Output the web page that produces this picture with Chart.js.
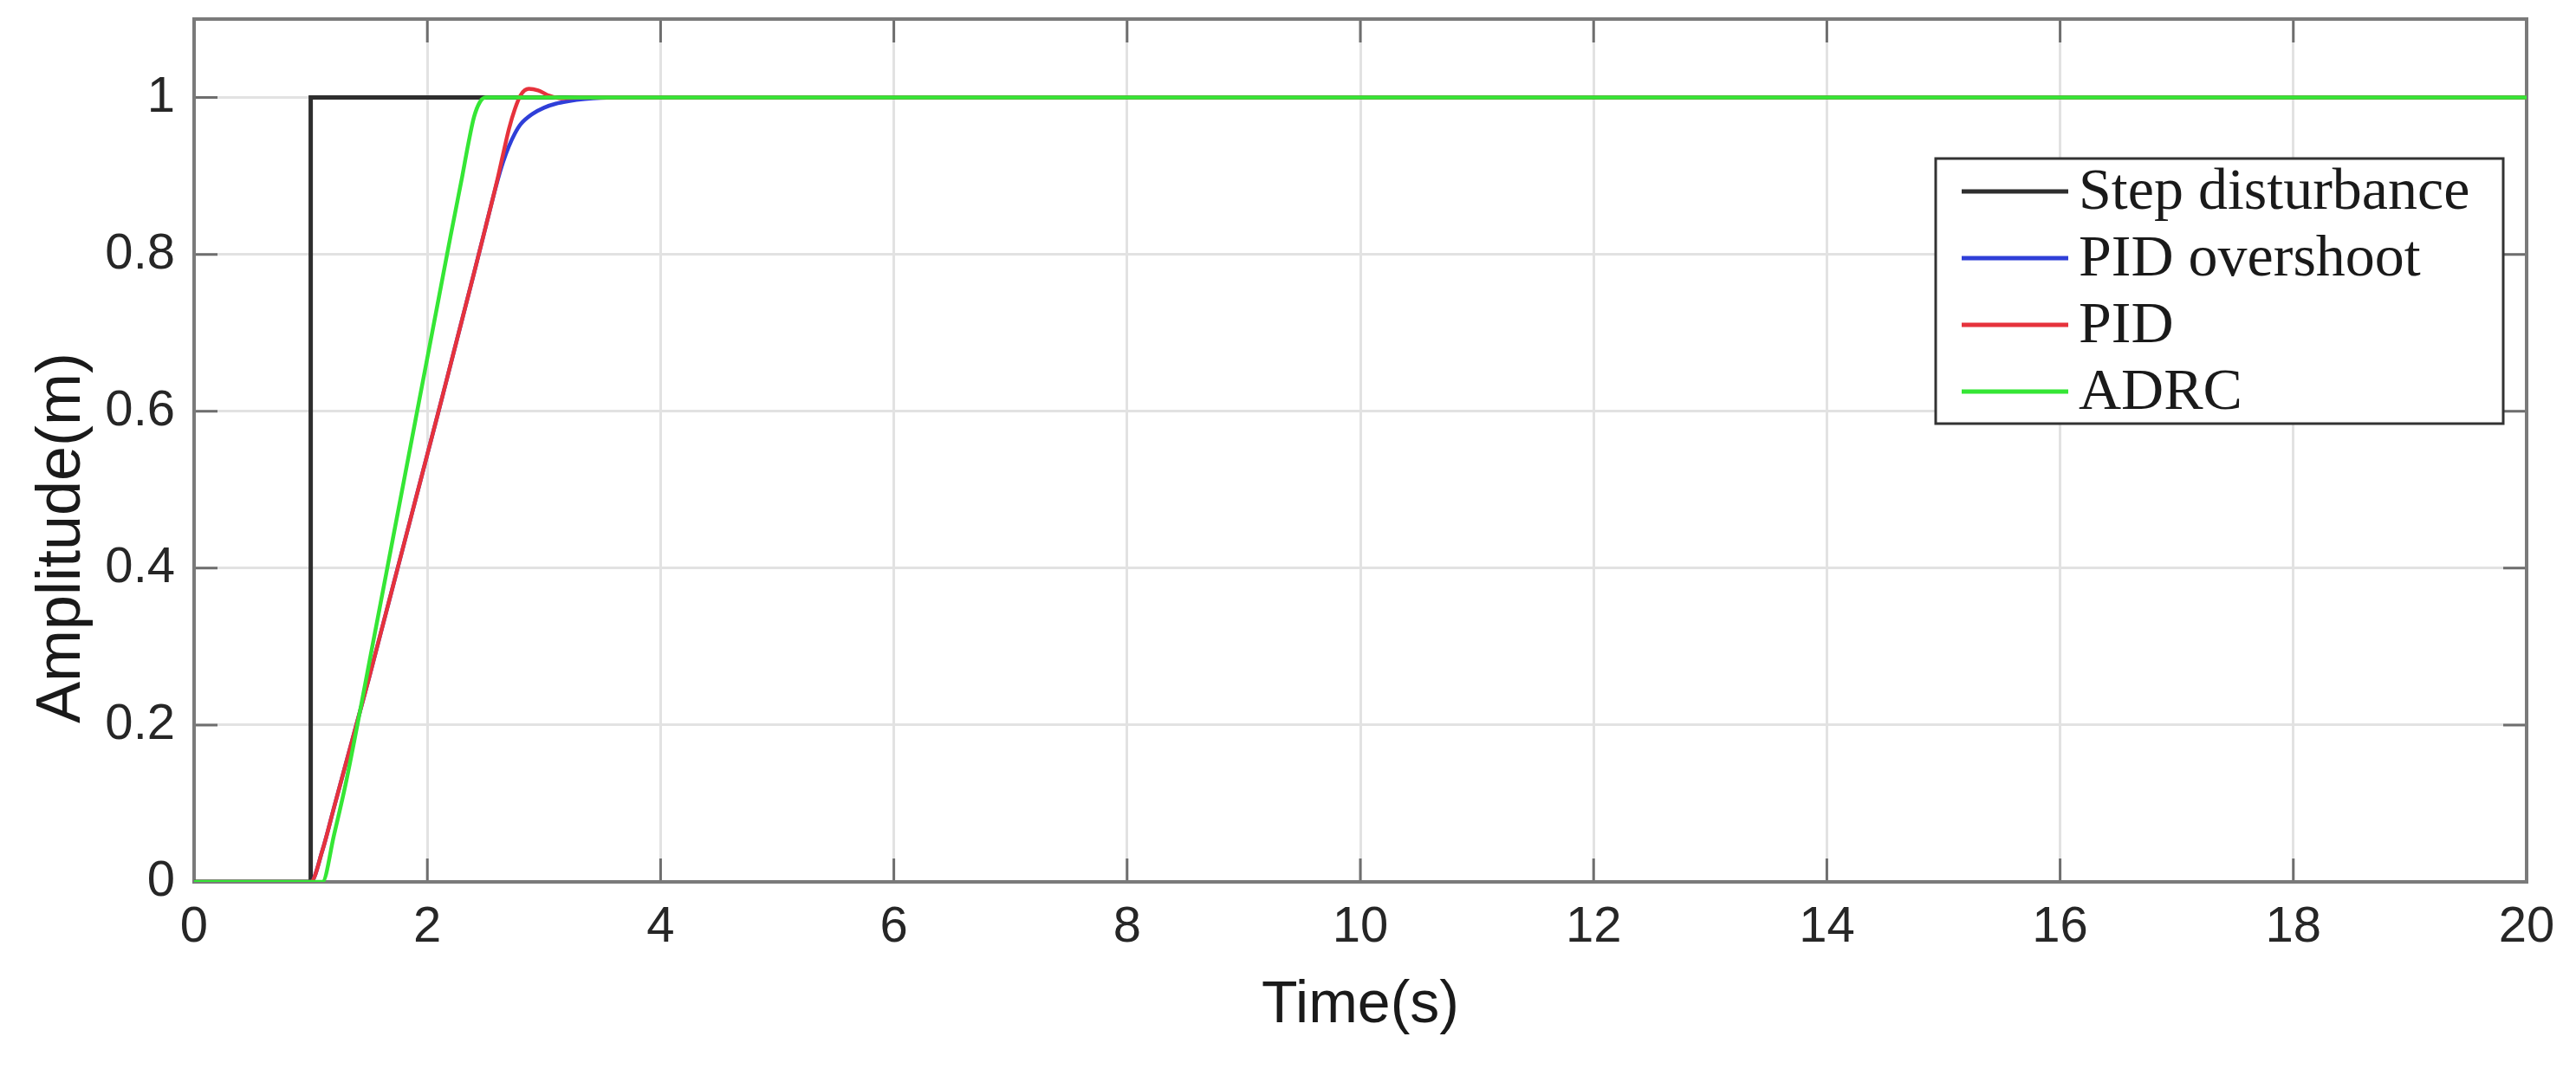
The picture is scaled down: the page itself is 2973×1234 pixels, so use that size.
<!DOCTYPE html>
<html>
<head>
<meta charset="utf-8">
<script src="https://cdn.jsdelivr.net/npm/chart.js@4.4.0/dist/chart.umd.min.js"></script>
<style>
  html, body { margin: 0; padding: 0; background: #fff; }
  #wrap { width: 2973px; height: 1234px; position: relative; }
</style>
</head>
<body>
<div id="wrap"><canvas id="chart"></canvas></div>
<script>
// axis ticks
const xTicks = [0, 2, 4, 6, 8, 10, 12, 14, 16, 18, 20];
const xTickLabels = ['0', '2', '4', '6', '8', '10', '12', '14', '16', '18', '20'];
const yTicks = [0, 0.2, 0.4, 0.6, 0.8, 1];
const yTickLabels = ['0', '0.2', '0.4', '0.6', '0.8', '1'];
const xTitle = 'Time(s)';
const yTitle = 'Amplitude(m)';

// series (time in s, amplitude in m)
const seriesNames = ['Step disturbance', 'PID overshoot', 'PID', 'ADRC'];
const seriesColors = ['#2e2e2e', '#2f3fd8', '#e6323c', '#35e635'];

const stepT = [0, 1, 1, 20];
const stepY = [0, 0, 1, 1];

const overT = [0, 1.0, 1.1, 1.2, 1.3, 1.4, 1.5, 1.6, 1.7, 1.8, 1.9, 2.0, 2.1, 2.2, 2.3, 2.4, 2.5, 2.6, 2.65, 2.7, 2.75, 2.8, 2.9, 3.0, 3.1, 3.2, 3.35, 3.6, 20];
const overY = [0, 0, 0.04, 0.095, 0.15, 0.205, 0.26, 0.317, 0.374, 0.431, 0.488, 0.545, 0.602, 0.66, 0.718, 0.776, 0.835, 0.893, 0.918, 0.938, 0.954, 0.966, 0.979, 0.987, 0.992, 0.995, 0.998, 1.0, 1.0];

const pidT = [0, 1.0, 1.1, 1.2, 1.3, 1.4, 1.5, 1.6, 1.7, 1.8, 1.9, 2.0, 2.1, 2.2, 2.3, 2.4, 2.5, 2.6, 2.65, 2.7, 2.75, 2.8, 2.87, 2.95, 3.05, 3.15, 3.3, 20];
const pidY = [0, 0, 0.04, 0.095, 0.15, 0.205, 0.26, 0.317, 0.374, 0.431, 0.488, 0.545, 0.602, 0.66, 0.718, 0.776, 0.835, 0.895, 0.928, 0.96, 0.985, 1.003, 1.011, 1.009, 1.002, 0.999, 1.0, 1.0];

const adrcT = [0, 1.1, 1.2, 1.3, 1.4, 1.5, 1.6, 1.7, 1.8, 1.9, 2.0, 2.1, 2.2, 2.3, 2.35, 2.4, 2.45, 2.5, 20];
const adrcY = [0, 0, 0.06, 0.125, 0.2, 0.278, 0.356, 0.434, 0.512, 0.59, 0.668, 0.746, 0.824, 0.9, 0.94, 0.975, 0.994, 1.0, 1.0];

function pts(t, y) {
    return t.map(function(v, i) { return { x: v, y: y[i] }; });
}

// MATLAB style box with inward ticks on all four sides
const frameTicks = {
    id: 'frameTicks',
    beforeDatasetsDraw(chart) {
        const ctx = chart.ctx;
        const a = chart.chartArea;
        const xs = chart.scales.x, ys = chart.scales.y;
        const len = 27;
        ctx.save();
        ctx.strokeStyle = '#6e6e6e';
        ctx.lineWidth = 3;
        ctx.beginPath();
        xTicks.forEach(function(v) {
            const px = xs.getPixelForValue(v);
            ctx.moveTo(px, a.bottom); ctx.lineTo(px, a.bottom - len);
            ctx.moveTo(px, a.top); ctx.lineTo(px, a.top + len);
        });
        yTicks.forEach(function(v) {
            const py = ys.getPixelForValue(v);
            ctx.moveTo(a.left, py); ctx.lineTo(a.left + len, py);
            ctx.moveTo(a.right, py); ctx.lineTo(a.right - len, py);
        });
        ctx.stroke();
        ctx.lineWidth = 4;
        ctx.strokeStyle = '#7a7a7a';
        ctx.strokeRect(a.left, a.top, a.right - a.left, a.bottom - a.top);
        ctx.restore();
    }
};

// y label sits a bit below the axis centre in the original
const yLabel = {
    id: 'yLabel',
    afterDraw(chart) {
        const ctx = chart.ctx;
        ctx.save();
        ctx.translate(72, 621);
        ctx.rotate(-Math.PI / 2);
        ctx.font = '72px "Liberation Sans"';
        ctx.fillStyle = '#1a1a1a';
        ctx.textAlign = 'center';
        ctx.textBaseline = 'middle';
        ctx.fillText(yTitle, 0, 0);
        ctx.restore();
    }
};

// boxed legend inside the plot, upper right
const boxLegend = {
    id: 'boxLegend',
    afterDraw(chart) {
        const ctx = chart.ctx;
        const bx = 2234, by = 183, bw = 655, bh = 306;
        ctx.save();
        ctx.fillStyle = '#ffffff';
        ctx.fillRect(bx, by, bw, bh);
        ctx.strokeStyle = '#333333';
        ctx.lineWidth = 3;
        ctx.strokeRect(bx, by, bw, bh);
        ctx.font = '68px "Liberation Serif"';
        ctx.textBaseline = 'middle';
        chart.data.datasets.forEach(function(ds, i) {
            const cy = by + 38 + i * 77;
            ctx.strokeStyle = ds.borderColor;
            ctx.lineWidth = 5;
            ctx.beginPath();
            ctx.moveTo(bx + 30, cy);
            ctx.lineTo(bx + 153, cy);
            ctx.stroke();
            ctx.fillStyle = '#1a1a1a';
            ctx.fillText(ds.label, bx + 165, cy + 2);
        });
        ctx.restore();
    }
};

const ctx = document.getElementById('chart').getContext('2d');
const chart = new Chart(ctx, {
    type: 'line',
    data: {
        datasets: [
            { label: seriesNames[0], data: pts(stepT, stepY), borderColor: seriesColors[0], borderWidth: 5, order: 4, tension: 0 },
            { label: seriesNames[1], data: pts(overT, overY), borderColor: seriesColors[1], borderWidth: 4.5, order: 3, cubicInterpolationMode: 'monotone' },
            { label: seriesNames[2], data: pts(pidT, pidY), borderColor: seriesColors[2], borderWidth: 4.5, order: 2, cubicInterpolationMode: 'monotone' },
            { label: seriesNames[3], data: pts(adrcT, adrcY), borderColor: seriesColors[3], borderWidth: 4.5, order: 1, cubicInterpolationMode: 'monotone' }
        ]
    },
    options: {
        responsive: true,
        maintainAspectRatio: false,
        animation: false,
        parsing: false,
        elements: { point: { radius: 0 } },
        layout: { padding: { top: 22, right: 57, left: 0, bottom: 0 } },
        plugins: {
            legend: { display: false },
            tooltip: { enabled: false }
        },
        scales: {
            x: {
                type: 'linear',
                min: 0,
                max: 20,
                afterBuildTicks: function(s) { s.ticks = xTicks.map(function(v) { return { value: v }; }); },
                afterFit: function(s) { s.height = 216; s.paddingLeft = 0; s.paddingRight = 0; },
                grid: { color: '#e2e2e2', lineWidth: 3, drawTicks: false },
                border: { display: false },
                ticks: {
                    padding: 18,
                    color: '#262626',
                    maxRotation: 0,
                    autoSkip: false,
                    font: { family: 'Liberation Sans', size: 58 },
                    callback: function(v, i) { return xTickLabels[i]; }
                },
                title: {
                    display: true,
                    text: xTitle,
                    color: '#1a1a1a',
                    font: { family: 'Liberation Sans', size: 68 },
                    padding: { top: 0, bottom: 32 }
                }
            },
            y: {
                type: 'linear',
                min: 0,
                max: 1.1,
                afterBuildTicks: function(s) { s.ticks = yTicks.map(function(v) { return { value: v }; }); },
                afterFit: function(s) { s.width = 224; s.paddingTop = 0; s.paddingBottom = 0; },
                grid: { color: '#e2e2e2', lineWidth: 3, drawTicks: false },
                border: { display: false },
                ticks: {
                    padding: 22,
                    color: '#262626',
                    font: { family: 'Liberation Sans', size: 58 },
                    callback: function(v, i) { return yTickLabels[i]; }
                },
                title: { display: false }
            }
        }
    },
    plugins: [frameTicks, yLabel, boxLegend]
});
</script>
</body>
</html>
